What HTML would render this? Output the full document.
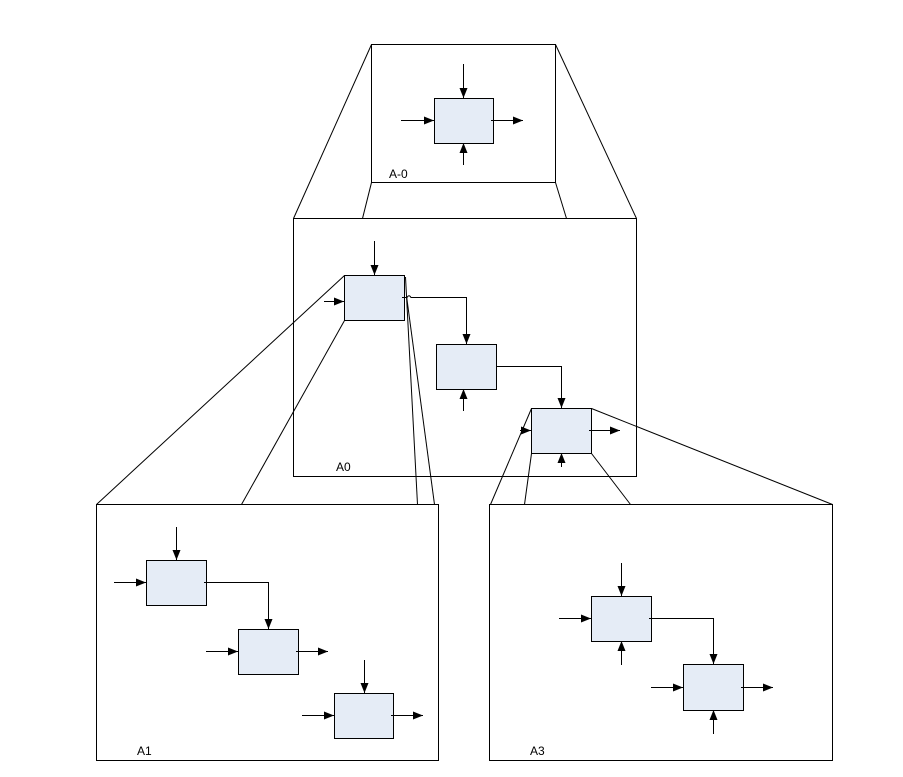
<!DOCTYPE html>
<html><head><style>html,body{margin:0;padding:0;background:#fff}svg{display:block}</style></head><body>
<svg width="903" height="777" viewBox="0 0 903 777" xmlns="http://www.w3.org/2000/svg" font-family="Liberation Sans, sans-serif">
<defs><marker id="a" markerWidth="10" markerHeight="8" refX="10" refY="4" orient="auto" markerUnits="userSpaceOnUse"><path d="M0,0 L10,4 L0,8 z" fill="#000"/></marker></defs>
<g stroke="#000" stroke-width="1" fill="none">
<!-- frames -->
<rect x="371.5" y="44.5" width="184" height="138"/>
<rect x="293.5" y="218.5" width="343" height="258"/>
<rect x="96.5" y="504.5" width="342" height="256"/>
<rect x="489.5" y="504.5" width="343" height="256"/>
<!-- projection lines -->
<line x1="371.5" y1="44.5" x2="293.5" y2="218.5"/>
<line x1="555.5" y1="44.5" x2="636.5" y2="218.5"/>
<line x1="371.5" y1="182.5" x2="362.5" y2="218.5"/>
<line x1="555.5" y1="182.5" x2="566.5" y2="218.5"/>
<line x1="344.5" y1="275.5" x2="96.5" y2="504.5"/>
<line x1="344.5" y1="320.5" x2="241.5" y2="504.5"/>
<line x1="405.5" y1="277" x2="417.5" y2="504.5"/>
<line x1="406.5" y1="296" x2="434.5" y2="504.5"/>
<line x1="531.5" y1="408.5" x2="490.5" y2="504.5"/>
<line x1="531.5" y1="453.5" x2="524.5" y2="504.5"/>
<line x1="591.5" y1="408.5" x2="832.5" y2="504.5"/>
<line x1="591.5" y1="453.5" x2="630.5" y2="504.5"/>
</g>
<g stroke="#000" stroke-width="1" fill="#e5ecf6">
<rect x="434.5" y="98.5" width="59" height="45"/>
<rect x="344.5" y="275.5" width="60" height="45"/>
<rect x="436.5" y="344.5" width="60" height="45"/>
<rect x="531.5" y="408.5" width="60" height="45"/>
<rect x="146.5" y="560.5" width="60" height="45"/>
<rect x="238.5" y="629.5" width="60" height="45"/>
<rect x="334.5" y="693.5" width="59" height="45"/>
<rect x="591.5" y="596.5" width="60" height="45"/>
<rect x="683.5" y="664.5" width="60" height="46"/>
</g>
<g stroke="#000" stroke-width="1" fill="none" marker-end="url(#a)">
<!-- A-0 -->
<line x1="463.5" y1="64" x2="463.5" y2="98"/>
<line x1="401" y1="120.5" x2="434" y2="120.5"/>
<line x1="491" y1="120.5" x2="523" y2="120.5"/>
<line x1="463.5" y1="165" x2="463.5" y2="143"/>
<!-- A0 -->
<line x1="374.5" y1="241" x2="374.5" y2="275"/>
<line x1="324" y1="301.5" x2="344" y2="301.5"/>
<path d="M402,297.5 H407 Q409,294 411,297.5 H466.5 V344"/>
<line x1="463.5" y1="411" x2="463.5" y2="389"/>
<path d="M496,366.5 H561.5 V408"/>
<line x1="520" y1="430.5" x2="531" y2="430.5"/>
<line x1="589" y1="430.5" x2="620" y2="430.5"/>
<line x1="561.5" y1="467" x2="561.5" y2="453"/>
<!-- A1 -->
<line x1="176.5" y1="527" x2="176.5" y2="560"/>
<line x1="114" y1="582.5" x2="146" y2="582.5"/>
<path d="M204,582.5 H268.5 V629"/>
<line x1="206" y1="651.5" x2="238" y2="651.5"/>
<line x1="296" y1="651.5" x2="328" y2="651.5"/>
<line x1="364.5" y1="660" x2="364.5" y2="693"/>
<line x1="302" y1="715.5" x2="334" y2="715.5"/>
<line x1="391" y1="715.5" x2="423" y2="715.5"/>
<!-- A3 -->
<line x1="621.5" y1="563" x2="621.5" y2="596"/>
<line x1="559" y1="618.5" x2="591" y2="618.5"/>
<path d="M649,618.5 H713.5 V664"/>
<line x1="621.5" y1="665" x2="621.5" y2="641"/>
<line x1="651" y1="687.5" x2="683" y2="687.5"/>
<line x1="741" y1="687.5" x2="773" y2="687.5"/>
<line x1="713.5" y1="734" x2="713.5" y2="710"/>
</g>
<g font-size="12" fill="#000">
<text x="389" y="178">A-0</text>
<text x="336" y="471">A0</text>
<text x="137" y="755">A1</text>
<text x="530" y="755">A3</text>
</g>
</svg>
</body></html>
